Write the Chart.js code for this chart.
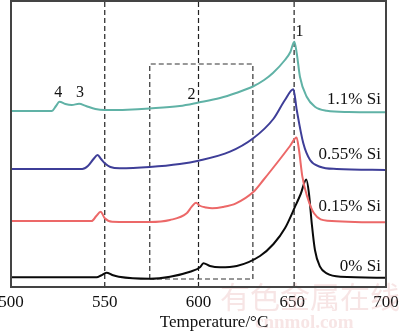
<!DOCTYPE html>
<html><head><meta charset="utf-8">
<script src="https://cdn.jsdelivr.net/npm/chart.js@4.4.1/dist/chart.umd.min.js"></script>
<style>html,body{margin:0;padding:0;background:#fff}#wrap{width:400px;height:334px}</style>
</head><body><div id="wrap"><canvas id="c" width="400" height="334"></canvas></div>
<script>
// ---- data (temperature in °C, signal in arbitrary units) ----
const seriesNames = ['1.1% Si', '0.55% Si', '0.15% Si', '0% Si'];
const peakNames = ['1', '2', '3', '4'];
const xTicks = [500, 550, 600, 650, 700];
const xTitle = 'Temperature/°C';

const tSi110 = [500, 521.7, 524, 525.8, 529, 532.4, 536.3, 540, 545, 550, 562, 574, 590, 600, 611.5, 620, 629, 635, 639.7, 646.1, 649, 651.1, 652.4, 654.1, 657.7, 662.1, 668.4, 680, 700];
const ySi110 = [176, 176, 181, 185.3, 183, 182, 183.3, 181, 178, 177, 177.3, 178.5, 181, 184.5, 189, 194, 200.5, 207, 214, 227, 235, 245.3, 233.7, 210.3, 190.3, 180.3, 176.3, 175, 174.7];

const tSi055 = [500, 538, 541, 544, 546.2, 548, 550, 553, 558, 574, 590, 600, 616.8, 629.2, 639.9, 646.1, 650.6, 652.4, 655.9, 659.5, 664.8, 673.7, 700];
const ySi055 = [118, 118, 121, 128, 132, 128, 123.7, 120, 118.7, 120, 123, 126.3, 135.3, 148.7, 168, 187, 197.7, 177, 143.7, 127, 120.3, 118, 117];

const tSi015 = [500, 543, 545.5, 547.8, 550, 554, 574, 584.8, 593.7, 596.4, 598.7, 600.5, 604, 607.3, 613, 620, 629.2, 634.6, 643.5, 648.8, 652.3, 653.6, 655.4, 658, 661.6, 668.7, 700];
const ySi015 = [66, 66, 71, 75.3, 68.7, 65.3, 65, 67, 73.7, 80.3, 84.3, 81.5, 79.5, 78.7, 80, 83.7, 95, 107, 128, 141, 149.5, 137, 110.3, 90.3, 73.7, 66.3, 64.7];

const tSi000 = [500, 545.7, 548, 551, 554, 557.5, 574, 584.8, 595.5, 600.8, 602.6, 606.1, 611.5, 620.4, 632.8, 640, 646.1, 651.5, 654.5, 657.5, 658.9, 660.4, 662.1, 664.8, 668.4, 675.7, 700];
const ySi000 = [9.7, 9.7, 11.5, 14.3, 12, 10.3, 8.3, 10.3, 15.3, 19.7, 23.7, 21, 19.7, 21, 31, 43, 58.7, 80.3, 93, 107.5, 93.7, 63.7, 37, 20.3, 13.7, 10.3, 9.3];

// reference markers
const guideT = [550, 600, 651];
const boxT = [574, 629];
const boxY = [8, 223];

const Y_MIN = 0, Y_MAX = 286;

function pts(t, y) { return t.map((v, i) => ({x: v, y: y[i]})); }
const serif = '"Liberation Serif", "Times New Roman", serif';

const datasets = [];
const lineColors = ['rgb(96,178,166)', 'rgb(62,62,152)', 'rgb(236,104,104)', 'rgb(10,10,10)'];
[[tSi110, ySi110], [tSi055, ySi055], [tSi015, ySi015], [tSi000, ySi000]].forEach((d, i) => {
  datasets.push({label: seriesNames[i], data: pts(d[0], d[1]), borderColor: lineColors[i], borderWidth: 2,
    pointRadius: 0, cubicInterpolationMode: 'monotone', fill: false});
});
guideT.forEach(t => datasets.push({data: [{x: t, y: Y_MIN}, {x: t, y: Y_MAX}], borderColor: '#222', borderWidth: 1.2,
  borderDash: [5, 3], pointRadius: 0, tension: 0}));
datasets.push({data: [{x: boxT[0], y: boxY[0]}, {x: boxT[0], y: boxY[1]}, {x: boxT[1], y: boxY[1]}, {x: boxT[1], y: boxY[0]}, {x: boxT[0], y: boxY[0]}],
  borderColor: '#333', borderWidth: 1.2, borderDash: [5, 3], pointRadius: 0, tension: 0});

const annot = {
  id: 'annot',
  beforeDatasetsDraw(chart) {
    const ctx = chart.ctx;
    ctx.save();
    ctx.fillStyle = 'rgba(225,160,160,0.28)';
    ctx.textBaseline = 'middle';
    ctx.textAlign = 'left';
    ctx.font = '30px "Noto Sans CJK SC"';
    ctx.fillText('有色金属在线', 220, 297);
    ctx.font = 'bold 19px ' + serif;
    ctx.fillText('cnnmol.com', 255, 323);
    ctx.restore();
  },
  afterDraw(chart) {
    const ctx = chart.ctx, a = chart.chartArea, xs = chart.scales.x, ys = chart.scales.y;
    ctx.save();
    ctx.strokeStyle = '#444'; ctx.lineWidth = 2;
    ctx.strokeRect(a.left, a.top, a.right - a.left, a.bottom - a.top);
    ctx.fillStyle = '#111';
    ctx.textBaseline = 'middle';
    ctx.font = '16px ' + serif;
    ctx.textAlign = 'center';
    const pk = [[653.8, 255], [596.2, 192], [536.8, 194], [525.2, 194]];
    pk.forEach((p, i) => ctx.fillText(peakNames[i], xs.getPixelForValue(p[0]), ys.getPixelForValue(p[1])));
    ctx.font = '17px ' + serif;
    ctx.textAlign = 'right';
    const sy = [187, 132, 80.3, 20.3];
    sy.forEach((v, i) => ctx.fillText(seriesNames[i], xs.getPixelForValue(697.3), ys.getPixelForValue(v)));
    ctx.textAlign = 'center';
    ctx.fillText(xTitle, 214, 323);
    ctx.restore();
  }
};

new Chart(document.getElementById('c'), {
  type: 'line',
  data: {datasets},
  options: {
    responsive: false, animation: false, devicePixelRatio: 1,
    layout: {padding: {left: 11, right: 14, top: 1, bottom: 0}},
    plugins: {legend: {display: false}, tooltip: {enabled: false}},
    scales: {
      x: {type: 'linear', min: 500, max: 700,
        afterBuildTicks(s) { s.ticks = xTicks.map(v => ({value: v})); },
        afterFit(s) { s.height = 47; s.paddingLeft = 0; s.paddingRight = 0; },
        grid: {display: false, drawTicks: false},
        border: {display: false},
        ticks: {color: '#111', font: {family: serif, size: 17}, padding: 5, maxRotation: 0, autoSkip: false}
      },
      y: {type: 'linear', min: Y_MIN, max: Y_MAX, display: false}
    }
  },
  plugins: [annot]
});
</script>
</body></html>
